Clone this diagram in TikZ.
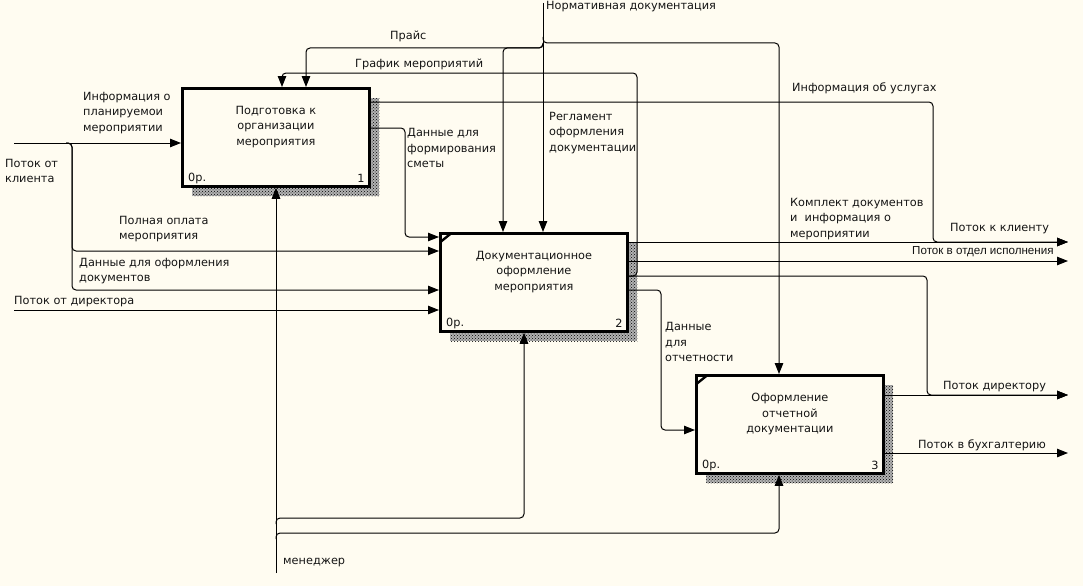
\documentclass[tikz,border=0pt]{standalone}
\usepackage{fontspec}
\setmainfont{DejaVu Sans}
\newfontfamily\narrowfont{Liberation Sans}
\usetikzlibrary{arrows.meta,patterns}
\definecolor{paper}{RGB}{255,252,241}
\definecolor{ink}{RGB}{20,20,20}
\tikzset{
  funcbox/.style={draw=black, line width=2.8pt, fill=paper, minimum width=187pt, minimum height=98pt,
    anchor=north west, inner sep=0pt,
    preaction={fill=black!30, transform canvas={xshift=10pt,yshift=-10pt}},
    preaction={pattern=crosshatch dots, pattern color=black, transform canvas={xshift=10pt,yshift=-10pt}}},
  boxtext/.style={align=center, font=\fontsize{11.3}{15.5}\selectfont, text=ink, inner sep=0pt},
  lbl/.style={align=left, anchor=west, font=\fontsize{11.3}{15.5}\selectfont, text=ink, inner sep=0pt},
  flow/.style={line width=1pt, rounded corners=4pt, -{Triangle[length=11pt,width=8.5pt]}},
}
\begin{document}
\begin{tikzpicture}[x=1pt,y=-1pt]
    \fill[paper] (0,0) rectangle (1083,586);
    \useasboundingbox (0,0) rectangle (1083,586);

    % functions
    \node[funcbox] (b1) at (181,87) {};
    \node[funcbox] (b2) at (439,232) {};
    \node[funcbox] (b3) at (695,374) {};
    \node[boxtext] (t1) at ([yshift=-40pt]b1.north) {Подготовка к\\организации\\мероприятия};
    \node[boxtext] (t2) at ([yshift=-40pt]b2.north) {Документационное\\оформление\\мероприятия};
    \node[boxtext] (t3) at ([yshift=-40pt]b3.north) {Оформление\\отчетной\\документации};
    \node[lbl] (c1) at ([xshift=7pt,yshift=9pt]b1.south west) {0р.};
    \node[lbl] (c2) at ([xshift=7pt,yshift=9pt]b2.south west) {0р.};
    \node[lbl] (c3) at ([xshift=7pt,yshift=9pt]b3.south west) {0р.};
    \node[lbl,anchor=east] (k1) at ([xshift=-6pt,yshift=9pt]b1.south east) {1};
    \node[lbl,anchor=east] (k2) at ([xshift=-6pt,yshift=9pt]b2.south east) {2};
    \node[lbl,anchor=east] (k3) at ([xshift=-6pt,yshift=9pt]b3.south east) {3};
    \draw[line width=2.4pt] ([xshift=1.4pt,yshift=-10pt]b2.north west) -- ([xshift=12pt,yshift=-1.4pt]b2.north west);
    \draw[line width=2.4pt] ([xshift=1.4pt,yshift=-10pt]b3.north west) -- ([xshift=12pt,yshift=-1.4pt]b3.north west);

    % inputs
    \coordinate (cl) at (14,143);
    \coordinate (sp) at (72,143);
    \coordinate (pay) at (72,251);
    \coordinate (doc) at (72,290);
    \coordinate (dir) at (14,310);
    \draw[flow] (cl) -- (cl -| b1.west);
    \draw[flow] ([xshift=-6pt]sp) -- (sp) |- (pay -| b2.west);
    \draw[flow] ([xshift=-6pt]sp) -- (sp) |- (doc -| b2.west);
    \draw[flow] (dir) -- (dir -| b2.west);

    % outputs
    \coordinate (sm) at (405,128);
    \coordinate (sm2) at (405,237);
    \coordinate (us) at (933,102);
    \coordinate (cli) at (1068,242);
    \coordinate (isp) at (1068,261);
    \coordinate (dr) at (1068,395);
    \coordinate (bu) at (1068,453);
    \coordinate (fd) at (927,276);
    \coordinate (gr) at (637,276);
    \coordinate (gr2) at (637,73);
    \coordinate (gr3) at (282,73);
    \coordinate (rp) at (661,290);
    \coordinate (rp2) at (661,430);
    \draw[flow] (sm -| b1.east) -- (sm) -- (sm2) -- (sm2 -| b2.west);
    \draw[flow] (us -| b1.east) -- (us) |- (cli);
    \draw[flow] (cli -| b2.east) -- (cli);
    \draw[flow] (isp -| b2.east) -- (isp);
    \draw[flow] (fd -| b2.east) -- (fd) |- (dr);
    \draw[flow] (gr -| b2.east) -- (gr) -- (gr2) -- (gr3) -- (gr3 |- b1.north);
    \draw[flow] (rp -| b2.east) -- (rp) -- (rp2) -- (rp2 -| b3.west);
    \draw[flow] (dr -| b3.east) -- (dr);
    \draw[flow] (bu -| b3.east) -- (bu);

    % controls
    \coordinate (nd) at (543,3);
    \coordinate (nds) at (543,43);
    \coordinate (nd3) at (779,43);
    \coordinate (pr) at (306,48);
    \coordinate (pr2) at (503,48);
    \draw[flow] (nd) -- (nd |- b2.north);
    \draw[flow] ([yshift=6pt]nds) -- (nds) -- (nd3) -- (nd3 |- b3.north);
    \draw[flow] (nds) |- (pr) -- (pr |- b1.north);
    \draw[flow] (nds) |- (pr2) -- (pr2 |- b2.north);

    % mechanisms
    \coordinate (mg) at (276,573);
    \coordinate (mg1) at (276,518);
    \coordinate (mg2) at (276,533);
    \coordinate (mx1) at (524,518);
    \coordinate (mx2) at (779,533);
    \draw[flow] (mg) -- (mg |- b1.south);
    \draw[flow] ([yshift=-6pt]mg1) -- (mg1) -- (mx1) -- (mx1 |- b2.south);
    \draw[flow] ([yshift=-6pt]mg2) -- (mg2) -- (mx2) -- (mx2 |- b3.south);

    % arrow labels
    \node[lbl] (l1) at (390,36) {Прайс};
    \node[lbl] (l2) at (355,64) {График мероприятий};
    \node[lbl] (l3) at (546,7) {Нормативная документация};
    \node[lbl] (l4) at (792,88) {Информация об услугах};
    \node[lbl] (l5) at (83,113) {Информация о\\планируемои\\мероприятии};
    \node[lbl] (l6) at (5,171) {Поток от\\клиента};
    \node[lbl] (l7) at (407,148) {Данные для\\формирования\\сметы};
    \node[lbl] (l8) at (549,133) {Регламент\\оформления\\документации};
    \node[lbl] (l9) at (119,229) {Полная оплата\\мероприятия};
    \node[lbl] (l10) at (79,271) {Данные для оформления\\документов};
    \node[lbl] (l11) at (14,302) {Поток от директора};
    \node[lbl] (l12) at (790,219) {Комплект документов\\и\ \ информация о\\мероприятии};
    \node[lbl] (l13) at (950,229) {Поток к клиенту};
    \node[lbl,font=\narrowfont\fontsize{11.6}{14}\selectfont] (l14) at (912,252) {Поток в отдел исполнения};
    \node[lbl] (l15) at (665,342) {Данные\\для\\отчетности};
    \node[lbl] (l16) at (943,387) {Поток директору};
    \node[lbl] (l17) at (918,445) {Поток в бухгалтерию};
    \node[lbl] (l18) at (283,563) {менеджер};
\end{tikzpicture}
\end{document}
